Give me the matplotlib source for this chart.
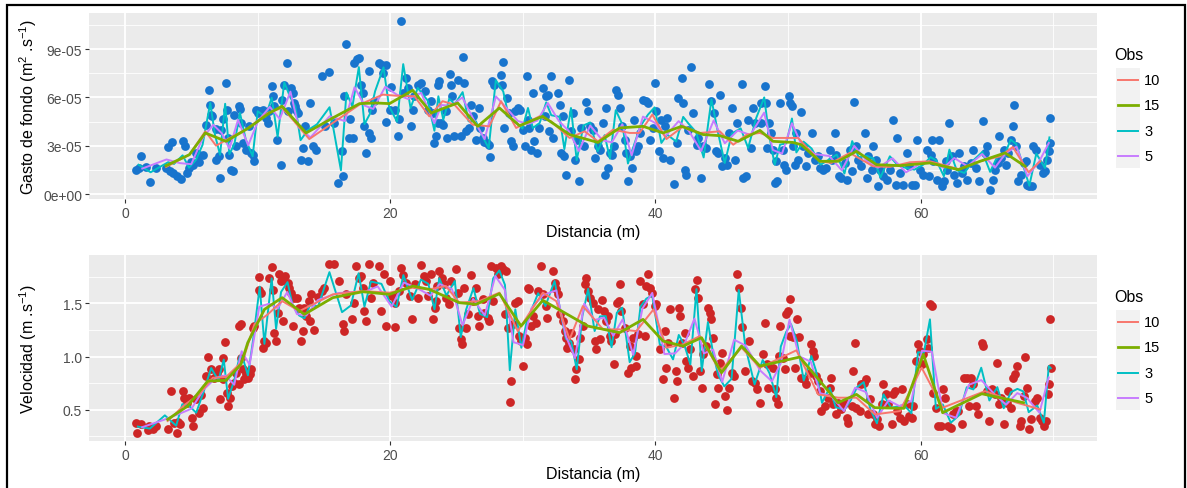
import numpy as np
import matplotlib
matplotlib.use("Agg")
import matplotlib.pyplot as plt
from matplotlib.lines import Line2D
from matplotlib.patches import Rectangle
from matplotlib.ticker import FuncFormatter, FixedLocator

plt.rcParams['font.family'] = ['Liberation Sans', 'DejaVu Sans']
plt.rcParams['mathtext.default'] = 'regular'

# ---------------- DATA ----------------
Q_SCALE = 1e-5  # top panel values are given in units of 1e-5 m2/s

# Gasto de fondo observations (x in m, y in 1e-5 m2/s)
gasto_pts_a = [(0.83,1.51),(1.21,2.34),(1.03,1.6),(1.58,1.68),(1.89,0.77),(2.34,1.6),(3.27,2.92),(3.55,3.2),(3.1,1.6),(3.4,1.4),(3.65,1.3),(3.9,1.1),(4.2,0.93),(4.35,3.27),(4.5,3.0),(4.65,1.3),(4.85,1.6),(5.0,2.0),(5.15,1.8),(5.35,2.55),(5.56,2.0),(5.6,2.4),(5.86,2.45),(6.1,4.3),(6.36,6.48),(6.44,5.55),(6.5,4.93),(6.6,4.82),(6.9,4.04),(6.87,2.13),(7.07,2.34),(7.2,1.0),(7.25,3.95),(7.4,4.66),(7.6,6.9),(7.67,5.24),(7.75,3.48),(7.87,2.44),(8.0,1.5),(8.13,1.4),(8.25,4.93),(8.38,2.96),(8.58,5.45),(8.68,5.28),(8.75,4.41),(8.88,3.17),(9.13,2.75),(9.33,4.2),(9.5,2.55),(9.63,2.44),(9.76,2.03),(9.9,5.24),(10.0,5.03),(10.14,5.13),(10.4,5.24),(10.64,4.72),(10.77,4.41),(10.9,5.13),(11.1,6.73),(11.2,6.07),(11.27,5.45),(11.5,3.37),(11.77,1.82),(11.85,5.86),(12.0,6.79),(12.2,8.14),(12.27,5.13),(12.5,6.58),(12.65,6.27),(12.78,5.65),(12.86,5.45),(12.9,5.24),(13.03,5.03),(13.3,2.13),(13.4,2.86),(13.6,4.2),(13.8,2.03),(13.96,5.65),(14.16,2.96),(14.4,2.71),(14.87,7.3),(15.07,4.2),(15.42,7.55),(15.8,4.41),(16.05,0.68),(16.38,2.65),(16.43,1.1),(16.55,6.07),(16.68,9.34),(16.88,3.48),(16.98,4.66),(17.18,3.48),(17.3,8.14),(17.48,8.39),(17.63,8.45),(17.8,6.79),(17.93,6.27),(18.06,4.2),(18.2,2.55),(18.4,7.62),(18.44,3.79),(18.56,3.48),(18.64,5.24),(18.8,5.76),(19.15,8.14),(19.4,8.03),(19.45,7.52),(19.65,8.03),(19.7,4.45),(19.95,5.24),(20.08,6.65),(20.33,5.24),(20.58,3.58),(20.65,4.66),(20.83,10.72),(20.96,6.27),(21.16,7.2),(21.33,6.58),(21.58,4.2),(21.7,5.24),(21.83,6.07),(22.08,6.79),(22.33,6.9),(22.6,6.38),(22.84,5.24),(23.34,3.17),(23.47,3.58),(23.6,6.79),(23.6,4.41)]
gasto_pts_b = [(23.07,5.76),(23.2,5.03),(23.7,7.0),(23.85,4.41),(23.97,4.3),(24.2,5.13),(24.3,3.48),(24.5,7.45),(24.57,6.79),(24.7,6.07),(24.8,3.58),(25.1,7.1),(25.34,3.58),(25.46,8.49),(25.6,6.9),(25.72,3.89),(25.92,4.1),(26.1,5.55),(26.27,4.82),(26.47,3.37),(26.67,5.34),(26.77,4.1),(26.98,3.48),(27.1,3.2),(27.28,3.17),(27.53,2.3),(27.48,3.06),(27.68,7.0),(27.86,6.79),(28.36,7.41),(28.54,8.2),(28.44,6.79),(28.6,4.1),(28.8,5.96),(28.94,5.03),(29.12,3.27),(29.24,2.96),(29.45,5.13),(29.62,5.34),(29.8,5.24),(30.0,4.0),(30.13,2.96),(30.3,7.3),(30.38,4.62),(30.5,4.1),(30.63,2.75),(30.76,6.27),(30.88,3.27),(31.06,2.55),(31.26,4.1),(31.5,6.58),(31.64,4.82),(31.76,6.07),(31.9,6.17),(32.0,3.89),(32.14,7.3),(32.3,3.48),(32.64,6.27),(32.77,5.55),(32.9,2.55),(33.0,4.82),(33.14,2.34),(33.27,1.2),(33.47,7.1),(33.65,3.89),(33.78,5.03),(33.9,2.13),(34.07,3.37),(34.23,0.79),(34.4,4.1),(34.58,2.96),(34.74,5.69),(34.9,5.13),(35.04,4.2),(35.3,4.0),(35.42,2.24),(35.67,2.96),(35.85,2.75),(36.05,4.41),(36.17,1.2),(36.3,5.34),(36.42,1.6),(36.55,2.55),(36.75,2.44),(36.85,2.96),(37.0,6.48),(37.18,6.17),(37.36,5.34),(37.5,4.2),(37.7,3.37),(37.8,2.55),(37.93,0.79),(38.06,2.34),(38.2,1.6),(38.36,4.62),(38.5,2.65),(38.7,2.96),(38.82,3.79),(39.07,5.86),(39.27,5.76),(39.45,5.65),(39.6,3.37),(39.8,4.1),(39.95,6.9),(40.08,5.13),(40.3,2.65),(40.45,4.62),(40.6,2.24),(40.7,4.2),(40.88,4.72),(41.08,2.13),(41.4,0.64),(41.6,3.17),(41.7,5.96),(41.97,7.2),(42.1,5.65),(42.22,1.51),(42.34,1.2),(42.47,4.0),(42.72,7.87),(42.85,5.03),(43.1,3.06),(43.22,3.48),(43.47,0.99),(43.6,2.96),(43.85,2.86),(44.05,6.83),(44.23,5.76),(44.4,5.03),(44.55,2.65),(44.73,2.55),(44.9,6.17),(45.06,1.72),(45.23,2.24),(45.4,1.82),(45.57,3.79),(45.74,5.34),(46.0,2.13),(46.17,4.41),(46.5,6.83),(46.62,0.99),(46.8,1.1),(47.0,4.62),(47.18,2.86),(47.33,5.34),(47.5,4.41),(48.0,5.65),(48.26,6.69),(48.4,2.86)]
gasto_pts_c = [(48.36,5.65),(47.98,4.41),(48.56,4.41),(48.74,3.79),(48.87,2.75),(49.0,0.68),(49.17,0.79),(49.12,2.03),(49.42,5.65),(49.62,2.75),(49.67,1.82),(49.87,1.51),(50.08,6.1),(50.18,5.65),(50.33,5.45),(50.38,2.96),(50.5,1.82),(50.63,3.79),(50.76,2.13),(51.0,5.07),(51.13,2.96),(51.38,1.72),(51.5,2.55),(51.84,3.79),(52.0,2.13),(52.27,2.34),(52.44,1.6),(52.64,1.51),(52.9,1.6),(53.15,2.75),(53.35,2.13),(53.53,3.79),(53.65,2.44),(53.85,1.1),(54.03,0.99),(54.28,1.93),(54.46,0.89),(54.66,2.75),(54.86,1.41),(55.0,5.69),(55.16,2.96),(55.3,2.13),(55.54,1.72),(55.8,3.79),(55.92,0.99),(56.05,2.34),(56.3,1.51),(56.42,2.96),(56.62,2.13),(56.8,0.48),(56.93,1.51),(57.18,1.1),(57.43,0.89),(57.68,1.51),(57.93,4.62),(58.14,0.58),(58.24,3.48),(58.44,1.3),(58.64,0.58),(58.94,2.55),(59.14,1.72),(59.32,0.58),(59.57,0.58),(59.7,3.37),(59.95,1.51),(60.2,1.2),(60.45,2.75),(60.65,1.1),(60.76,2.44),(60.83,3.33),(60.96,2.03),(61.2,0.89),(61.41,3.33),(61.59,0.48),(61.76,0.79),(61.91,2.03),(62.0,1.51),(62.17,4.41),(62.34,2.34),(62.52,1.2),(62.72,0.68),(62.92,2.55),(63.1,1.3),(63.28,1.72),(63.53,0.89),(63.78,1.93),(63.98,2.75),(64.18,1.6),(64.43,0.79),(64.69,4.51),(64.86,2.55),(65.04,2.96),(65.24,0.27),(65.44,0.89),(65.62,1.51),(65.8,1.93),(65.94,3.58),(66.05,2.24),(66.25,2.75),(66.45,1.82),(66.62,2.55),(66.8,3.37),(66.95,4.2),(67.05,5.55),(67.2,2.96),(67.38,0.79),(67.56,1.2),(67.76,1.93),(67.93,2.03),(68.0,0.58),(68.2,0.48),(68.39,0.48),(68.5,2.96),(68.7,2.75),(68.97,1.82),(69.22,1.3),(69.4,1.41),(69.52,2.13),(69.65,2.65),(69.77,3.17),(69.72,4.72)]

# Velocidad observations (x in m, y in m/s)
vel_pts_a = [(0.83,0.378),(1.21,0.362),(0.88,0.284),(1.71,0.306),(1.84,0.346),(2.09,0.315),(2.34,0.346),(3.22,0.32),(3.47,0.675),(3.72,0.378),(3.9,0.284),(3.97,0.387),(4.15,0.368),(4.35,0.675),(4.48,0.613),(4.65,0.566),(4.86,0.613),(5.06,0.425),(5.16,0.346),(5.36,0.597),(5.6,0.472),(5.74,0.638),(5.86,0.519),(6.11,0.816),(6.3,0.995),(6.47,0.879),(6.74,0.8),(6.92,0.848),(7.07,0.879),(7.17,0.597),(7.37,0.989),(7.42,0.785),(7.57,1.139),(7.67,0.66),(7.75,0.534),(7.92,0.613),(8.08,0.722),(8.25,0.754),(8.38,0.848),(8.58,0.738),(8.75,0.989),(8.88,0.879),(9.0,0.785),(9.13,0.832),(9.26,0.8),(9.43,0.838),(9.5,0.879),(8.63,1.286),(8.75,1.308),(9.69,1.264),(9.76,1.286),(10.09,1.747),(10.14,1.622),(10.26,1.6),(10.39,1.083),(10.52,1.145),(10.64,1.13),(10.89,1.741),(11.1,1.841),(11.2,1.622),(11.27,1.224),(11.4,1.145),(11.52,1.412),(11.65,1.778),(11.77,1.709),(11.9,1.333),(12.1,1.756),(12.28,1.694),(12.4,1.647),(12.52,1.6),(12.65,1.286),(12.78,1.553),(12.96,1.553),(13.16,1.459),(13.28,1.145),(13.41,1.239),(13.53,1.459),(13.66,1.38),(13.86,1.521),(13.96,1.333),(14.04,1.59),(14.29,1.245),(14.54,1.559),(14.87,1.615),(15.04,1.647),(15.42,1.866),(15.8,1.866),(16.13,1.709),(16.43,1.302),(16.55,1.239),(16.68,1.584),(17.13,1.349),(17.3,1.506),(17.43,1.85),(17.63,1.741),(17.8,1.756),(17.93,1.647),(18.06,1.427),(18.19,1.333),(18.39,1.866),(18.57,1.553),(18.69,1.694),(19.14,1.85),(19.32,1.427),(19.57,1.772),(19.7,1.286),(19.95,1.709),(20.15,1.568),(20.33,1.277),(20.4,1.506),(20.7,1.615),(20.83,1.835),(20.96,1.766),(21.2,1.694),(21.46,1.568),(21.66,1.349),(21.84,1.678),(22.09,1.553),(22.34,1.86),(22.52,1.756),(22.72,1.709),(22.84,1.568),(23.22,1.349),(23.35,1.459),(23.52,1.662)]
vel_pts_b = [(23.07,1.772),(23.45,1.521),(23.7,1.803),(23.9,1.741),(24.07,1.678),(24.2,1.553),(24.46,1.49),(24.58,1.709),(24.96,1.819),(25.09,1.6),(25.21,1.271),(25.34,1.161),(25.42,1.114),(25.6,1.647),(25.72,1.271),(25.84,1.396),(26.1,1.766),(26.27,1.521),(26.47,1.64),(26.6,1.38),(26.73,1.286),(26.98,1.537),(27.1,1.412),(27.36,1.365),(27.48,1.333),(27.6,1.85),(27.73,1.521),(27.98,1.835),(28.1,1.772),(28.24,1.803),(28.36,1.85),(28.54,1.819),(28.74,1.803),(28.69,1.396),(28.87,1.271),(29.12,0.769),(29.07,0.575),(29.24,1.302),(29.45,1.506),(29.62,1.521),(29.75,1.192),(29.87,1.145),(30.13,1.177),(30.05,0.91),(30.3,1.114),(30.38,1.647),(30.5,1.631),(30.63,1.286),(30.76,1.38),(30.96,1.318),(31.13,1.615),(31.38,1.85),(31.56,1.584),(31.76,1.474),(31.8,1.365),(32.27,1.803),(32.4,1.694),(32.52,1.631),(32.64,1.584),(32.82,1.396),(33.02,1.333),(33.15,1.239),(33.27,1.177),(33.32,1.083),(33.48,1.13),(33.65,1.224),(33.83,1.067),(33.95,0.785),(34.03,0.879),(34.23,0.973),(34.28,1.17),(34.53,1.286),(34.66,1.678),(34.79,1.741),(34.91,1.615),(35.09,1.553),(35.29,1.506),(35.42,1.145),(35.54,1.067),(35.67,1.443),(35.8,1.161),(36.0,1.528),(36.1,1.427),(36.25,1.333),(36.42,1.38),(36.55,1.192),(36.68,1.145),(36.85,0.926),(36.93,1.208),(37.1,1.506),(37.25,1.521),(37.36,1.678),(37.43,1.427),(37.68,1.271),(37.93,0.848),(38.06,1.098),(38.19,0.895),(38.31,1.177),(38.51,1.004),(38.56,0.91),(38.69,1.208),(38.87,1.709),(39.07,1.49),(39.19,1.192),(39.32,1.662),(39.45,1.778),(39.57,1.647),(39.77,1.6),(39.95,1.474),(40.08,1.49),(40.33,1.067),(40.58,0.785),(40.7,1.239),(40.83,0.895),(40.96,1.13),(41.08,1.443),(41.38,0.613),(41.53,0.863),(41.63,0.769),(41.78,1.459),(41.88,1.38),(42.04,1.13),(42.21,1.224),(42.34,0.957),(42.46,0.895),(42.6,1.067),(42.85,0.816),(42.97,1.631),(43.1,1.716),(43.22,1.553),(43.4,0.863),(43.48,0.707),(43.6,1.02),(43.8,1.098),(43.98,1.459),(44.1,1.412),(44.23,1.349),(44.36,1.177),(44.48,0.55),(44.61,0.832),(44.73,0.707),(44.86,0.942),(44.99,1.036),(45.24,0.628),(45.37,0.494),(45.57,0.707),(45.74,0.848),(45.92,0.816),(46.12,1.772),(46.32,1.647),(46.42,1.459),(46.5,1.277),(46.75,0.863),(47.08,1.145),(47.25,0.769),(47.5,0.754),(47.68,0.691),(47.88,0.566),(48.14,1.02),(48.26,1.318),(48.44,0.926),(48.51,0.707)]
vel_pts_c = [(48.87,0.895),(49.0,0.691),(49.12,0.613),(49.24,0.55),(49.32,1.004),(49.42,1.286),(49.62,0.989),(49.75,0.879),(49.87,1.396),(50.0,1.427),(50.18,1.537),(50.13,1.192),(50.38,1.183),(50.5,0.895),(50.68,1.349),(50.83,1.183),(51.0,0.8),(51.18,0.785),(51.38,0.738),(51.64,0.848),(51.76,1.114),(51.89,1.051),(51.94,1.004),(52.14,0.816),(52.27,0.769),(52.39,0.675),(52.52,0.487),(52.77,0.534),(53.02,0.613),(53.15,0.707),(53.27,0.8),(53.4,0.55),(53.6,0.456),(53.78,0.566),(54.03,0.503),(54.28,0.566),(54.46,0.425),(54.53,0.378),(54.79,0.534),(54.91,0.863),(55.04,1.13),(55.16,0.519),(55.42,0.487),(55.54,0.738),(55.72,0.754),(55.87,0.785),(56.05,0.456),(56.17,0.597),(56.42,0.456),(56.55,0.362),(56.68,0.409),(56.88,0.346),(57.05,0.55),(57.18,0.738),(57.38,0.644),(57.56,0.55),(57.81,0.362),(57.93,0.644),(58.06,0.675),(58.19,0.487),(58.44,0.425),(58.56,0.691),(58.74,0.394),(58.94,0.55),(59.14,0.44),(59.32,0.425),(59.45,0.534),(59.65,0.957),(59.82,1.114),(59.95,1.051),(60.08,0.926),(60.2,1.02),(60.45,1.161),(60.58,1.083),(60.7,1.49),(60.83,1.474),(60.96,0.66),(61.16,0.519),(61.34,0.346),(61.51,0.346),(61.66,0.691),(61.84,0.613),(62.09,0.346),(62.27,0.331),(62.47,0.456),(62.67,0.487),(62.85,0.487),(63.1,0.362),(63.28,0.8),(63.48,0.8),(63.68,0.534),(63.78,0.8),(63.98,0.738),(64.18,0.534),(64.36,0.456),(64.61,1.13),(64.74,1.098),(64.99,0.675),(65.19,0.394),(65.37,0.691),(65.62,0.644),(65.79,0.942),(65.94,0.55),(66.05,0.613),(66.25,0.362),(66.5,0.566),(66.62,0.675),(66.8,0.519),(67.0,0.8),(67.13,0.832),(67.3,0.91),(67.46,0.346),(67.56,0.394),(67.76,0.628),(67.9,0.995),(68.0,0.707),(68.14,0.315),(68.31,0.409),(68.64,0.581),(68.77,0.613),(68.97,0.425),(69.14,0.394),(69.27,0.346),(69.47,0.394),(69.57,0.644),(69.65,0.738),(69.77,1.349),(69.82,0.889)]

# Averaged lines (x in m)
gasto_obs10_x = [3.1,4.86,6.06,6.87,8.13,9.13,10.77,11.85,12.65,13.9,15.67,17.69,19.45,20.45,21.83,22.95,23.95,24.84,26.22,27.48,28.36,29.5,31.26,32.14,33.53,34.66,35.67,36.8,38.06,38.8,39.77,40.83,42.1,43.35,44.86,45.87,46.9,47.88,48.87,50.76,52.4,53.27,54.66,56.42,57.68,59.19,60.7,62.85,64.48,66.0,66.95,68.14,69.02]
gasto_obs10_y = [1.68,2.44,3.89,3.0,3.58,4.0,5.03,5.34,4.62,3.41,4.41,5.55,6.17,6.1,6.07,4.82,5.76,5.55,4.3,4.2,5.76,4.1,4.82,4.51,3.48,3.89,3.27,3.99,3.79,3.79,4.93,3.41,4.2,3.79,3.89,3.06,3.69,3.79,3.48,3.48,2.03,1.93,2.55,1.72,1.68,1.97,2.03,1.55,2.03,2.34,2.92,1.35,2.03]
gasto_obs15_x = [3.1,4.86,6.06,7.62,9.33,10.9,11.85,13.66,15.67,17.69,18.94,19.95,21.7,23.1,25.09,26.6,28.24,29.75,31.5,33.53,35.67,37.3,39.07,40.58,41.97,43.6,44.86,46.25,47.88,48.87,50.38,51.0,52.4,53.78,55.16,56.67,58.44,60.7,62.85,64.48,66.37,67.88]
gasto_obs15_y = [1.76,2.44,3.79,3.27,4.1,5.03,5.45,3.79,4.72,5.61,5.65,5.61,6.44,5.03,5.65,4.2,5.34,4.24,4.82,3.69,3.2,4.1,4.2,3.79,4.2,3.69,3.62,3.27,3.95,3.27,3.2,3.06,2.03,2.03,2.65,1.82,1.76,1.93,1.51,2.03,2.55,1.72]
vel_obs10_x = [3.22,4.48,5.6,6.62,7.62,8.88,9.76,10.77,11.85,13.16,15.67,17.93,19.95,21.71,22.95,24.2,25.21,26.73,28.24,29.62,31.51,32.52,33.53,34.53,36.05,37.3,38.56,39.86,40.83,42.09,43.35,44.86,46.5,47.88,50.63,52.27,53.78,55.16,56.55,58.44,60.08,61.66,64.86,67.25,69.02]
vel_obs10_y = [0.394,0.544,0.644,0.8,0.807,0.957,1.302,1.396,1.521,1.427,1.584,1.615,1.6,1.647,1.631,1.662,1.506,1.521,1.6,1.239,1.6,1.521,1.161,1.474,1.255,1.255,1.239,1.443,1.083,1.114,1.192,0.863,1.083,0.895,1.058,0.644,0.613,0.613,0.456,0.487,0.895,0.519,0.675,0.566,0.503]
vel_obs15_x = [3.22,4.73,6.24,7.62,8.75,9.26,10.52,11.85,13.53,15.67,17.93,19.95,21.71,22.95,25.21,26.47,28.24,29.87,31.51,34.91,37.3,39.07,40.58,42.09,43.48,44.99,46.5,47.88,50.88,53.78,55.16,56.55,58.74,60.2,61.66,64.61,67.76]
vel_obs15_y = [0.409,0.534,0.769,0.776,0.926,1.13,1.443,1.553,1.396,1.553,1.609,1.584,1.662,1.631,1.506,1.49,1.59,1.286,1.528,1.286,1.224,1.349,1.145,1.098,1.177,0.848,1.098,0.91,0.995,0.566,0.644,0.519,0.513,1.02,0.472,0.65,0.566]

obs_labels = ["10", "15", "3", "5"]
obs_colors = {"10": "#F8766D", "15": "#7CAE00", "3": "#00BFC4", "5": "#C77CFF"}

# ---------------- HELPERS ----------------
W, H = 1187, 489


def split(*segs):
    pts = sorted([p for s in segs for p in s])
    arr = np.array(pts, dtype=float)
    return arr[:, 0], arr[:, 1]


def block_mean(x, y, n):
    xs, ys = [], []
    for i in range(0, len(x), n):
        xs.append(np.mean(x[i:i + n]))
        ys.append(np.mean(y[i:i + n]))
    return np.array(xs), np.array(ys)


def fx(px):
    return px / W


def fy(py):
    return 1 - py / H


fig = plt.figure(figsize=(W / 100, H / 100), dpi=100)
fig.patch.set_facecolor('white')

panels = [
    dict(top=14, bottom=200, pts=split(gasto_pts_a, gasto_pts_b, gasto_pts_c), scale=Q_SCALE,
         l10=(gasto_obs10_x, gasto_obs10_y), l15=(gasto_obs15_x, gasto_obs15_y),
         color='#1874CD', ylim=(-0.31, 11.235), ymaj=[0, 3, 6, 9], ymin=[1.5, 4.5, 7.5, 10.5],
         ylabel='Gasto de fondo (m$^{2}$ .s$^{-1}$)', fmt=lambda v, p: f"{v:.0e}"),
    dict(top=256, bottom=442, pts=split(vel_pts_a, vel_pts_b, vel_pts_c), scale=1.0,
         l10=(vel_obs10_x, vel_obs10_y), l15=(vel_obs15_x, vel_obs15_y),
         color='#CD2626', ylim=(0.206, 1.954), ymaj=[0.5, 1.0, 1.5], ymin=[0.25, 0.75, 1.25, 1.75],
         ylabel='Velocidad (m .s$^{-1}$)', fmt=lambda v, p: f"{v:.1f}"),
]

left, right = 89, 1097
for P in panels:
    ax = fig.add_axes([fx(left), fy(P['bottom']), fx(right) - fx(left), (P['bottom'] - P['top']) / H])
    ax.set_facecolor('#EBEBEB')
    sc = P['scale']
    x, y = P['pts']
    ax.scatter(x, y * sc, s=40, color=P['color'], linewidths=0, zorder=3)
    x3, y3 = block_mean(x, y, 3)
    x5, y5 = block_mean(x, y, 5)
    ax.plot(x3, y3 * sc, color=obs_colors["3"], lw=1.4, zorder=4)
    ax.plot(x5, y5 * sc, color=obs_colors["5"], lw=1.4, zorder=5)
    ax.plot(P['l10'][0], np.array(P['l10'][1]) * sc, color=obs_colors["10"], lw=1.4, zorder=6)
    ax.plot(P['l15'][0], np.array(P['l15'][1]) * sc, color=obs_colors["15"], lw=2.0, zorder=7)

    ax.set_xlim(-2.71, 73.30)
    ax.set_ylim(P['ylim'][0] * sc, P['ylim'][1] * sc)
    ax.xaxis.set_major_locator(FixedLocator([0, 20, 40, 60]))
    ax.xaxis.set_minor_locator(FixedLocator([10, 30, 50, 70]))
    ax.yaxis.set_major_locator(FixedLocator([v * sc for v in P['ymaj']]))
    ax.yaxis.set_minor_locator(FixedLocator([v * sc for v in P['ymin']]))
    ax.yaxis.set_major_formatter(FuncFormatter(P['fmt']))
    ax.grid(which='major', color='white', lw=1.3, zorder=0)
    ax.grid(which='minor', color='white', lw=0.6, zorder=0)
    ax.set_axisbelow(True)
    for s in ax.spines.values():
        s.set_visible(False)
    ax.tick_params(which='major', length=2.75, width=0.8, color='#333333', labelcolor='#4D4D4D',
                   labelsize=10)
    ax.tick_params(axis='x', which='major', pad=2.6)
    ax.tick_params(axis='y', which='major', pad=2.2)
    ax.tick_params(which='minor', length=0)

    # axis titles
    fig.text(fx((left + right) / 2), fy(P['bottom'] + 33), 'Distancia (m)', ha='center', va='center',
             fontsize=11.5, color='black')
    fig.text(fx(28), fy((P['top'] + P['bottom']) / 2), P['ylabel'], rotation=90, ha='center',
             va='center', fontsize=11.5, color='black')

    # legend (drawn manually, ggplot style)
    ttl_y = P['top'] + 41
    fig.text(fx(1114), fy(ttl_y), 'Obs', ha='left', va='center', fontsize=11.5, color='black')
    for i, lab in enumerate(obs_labels):
        cy = P['top'] + 67 + 25.3 * i
        fig.add_artist(Rectangle((fx(1116), fy(cy + 12.5)), fx(24), 25 / H, transform=fig.transFigure,
                                 facecolor='#F2F2F2', edgecolor='none'))
        lw = 2.0 if lab == "15" else 1.4
        fig.add_artist(Line2D([fx(1118), fx(1138)], [fy(cy), fy(cy)], transform=fig.transFigure,
                              color=obs_colors[lab], lw=lw))
        fig.text(fx(1144), fy(cy), lab, ha='left', va='center', fontsize=10.5, color='black')

# outer frame
fig.add_artist(Rectangle((fx(7), -0.1), fx(1185 - 7), 1.1 - 6 / H, transform=fig.transFigure,
                         fill=False, edgecolor='black', lw=1.6, clip_on=False))

fig.savefig('out.png', dpi=100)
